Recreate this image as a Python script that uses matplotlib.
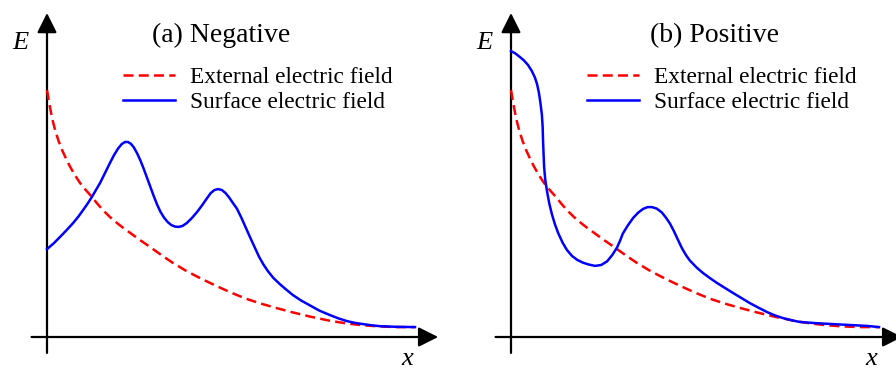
import matplotlib
matplotlib.use("Agg")
import matplotlib.pyplot as plt

# position along the gap (arbitrary units) and field strength
ext_x = [0.00, 0.04, 0.08, 0.14, 0.22, 0.31, 0.41, 0.52, 0.63, 0.76, 0.90, 1.06,
         1.22, 1.37, 1.52, 1.71, 1.90, 2.08, 2.26, 2.53, 2.80, 3.11, 3.42, 3.76,
         4.10, 4.45, 4.80, 5.10, 5.40, 5.79, 6.25, 6.68, 7.15, 7.69, 8.15, 8.59,
         9.05, 9.51, 10.0]
ext_E = [8.23, 7.95, 7.67, 7.28, 6.90, 6.55, 6.23, 5.94, 5.67, 5.39, 5.13, 4.89,
         4.67, 4.44, 4.23, 4.00, 3.80, 3.63, 3.47, 3.23, 3.00, 2.73, 2.47, 2.22,
         2.00, 1.79, 1.59, 1.43, 1.28, 1.12, 0.96, 0.82, 0.68, 0.54, 0.45, 0.39,
         0.35, 0.33, 0.33]

neg_x = [0.00, 0.18, 0.35, 0.53, 0.71, 0.85, 0.98, 1.10, 1.22, 1.33, 1.44, 1.57,
         1.71, 1.82, 1.93, 2.03, 2.12, 2.20, 2.28, 2.36, 2.45, 2.54, 2.63, 2.72,
         2.81, 2.90, 2.99, 3.08, 3.18, 3.28, 3.38, 3.48, 3.58, 3.68, 3.80, 3.94,
         4.08, 4.22, 4.35, 4.45, 4.55, 4.65, 4.75, 4.85, 4.95, 5.05, 5.16, 5.28,
         5.40, 5.52, 5.64, 5.76, 5.88, 6.00, 6.15, 6.33, 6.50, 6.68, 6.90, 7.15,
         7.40, 7.69, 7.92, 8.15, 8.37, 8.59, 8.82, 9.05, 9.50, 10.0]
neg_E = [2.93, 3.12, 3.33, 3.56, 3.80, 4.01, 4.23, 4.44, 4.67, 4.90, 5.13, 5.45,
         5.80, 6.06, 6.28, 6.43, 6.50, 6.50, 6.44, 6.32, 6.12, 5.88, 5.60, 5.30,
         5.00, 4.70, 4.42, 4.18, 3.98, 3.83, 3.73, 3.68, 3.67, 3.70, 3.80, 3.97,
         4.17, 4.40, 4.63, 4.80, 4.90, 4.93, 4.90, 4.80, 4.65, 4.47, 4.28, 3.98,
         3.65, 3.32, 3.00, 2.68, 2.42, 2.20, 1.97, 1.76, 1.58, 1.40, 1.22, 1.05,
         0.88, 0.73, 0.62, 0.53, 0.47, 0.43, 0.39, 0.36, 0.34, 0.33]

pos_x = [0.00, 0.12, 0.245, 0.35, 0.46, 0.56, 0.65, 0.71, 0.76, 0.80, 0.84, 0.86,
         0.87, 0.885, 0.90, 0.93, 0.98, 1.04, 1.11, 1.19, 1.28, 1.40, 1.52, 1.66,
         1.80, 1.95, 2.10, 2.28, 2.45, 2.61, 2.75, 2.88, 2.96, 3.04, 3.18, 3.32,
         3.46, 3.59, 3.71, 3.83, 3.96, 4.10, 4.21, 4.32, 4.43, 4.54, 4.65, 4.76,
         4.86, 5.04, 5.22, 5.41, 5.60, 5.82, 6.03, 6.26, 6.49, 6.72, 6.96, 7.17,
         7.39, 7.62, 7.85, 8.30, 8.75, 9.20, 9.67, 10.0]
pos_E = [9.53, 9.45, 9.33, 9.22, 9.07, 8.88, 8.65, 8.42, 8.13, 7.80, 7.40, 7.00,
         6.57, 6.10, 5.67, 5.25, 4.85, 4.45, 4.10, 3.77, 3.47, 3.15, 2.90, 2.70,
         2.57, 2.48, 2.42, 2.37, 2.40, 2.52, 2.73, 2.98, 3.20, 3.45, 3.73, 3.97,
         4.15, 4.27, 4.33, 4.33, 4.28, 4.15, 3.98, 3.78, 3.52, 3.23, 2.95, 2.72,
         2.55, 2.32, 2.13, 1.96, 1.80, 1.63, 1.47, 1.30, 1.13, 0.98, 0.83, 0.72,
         0.63, 0.56, 0.50, 0.46, 0.43, 0.40, 0.37, 0.33]

titles = ["(a) Negative", "(b) Positive"]
surface = [(neg_x, neg_E), (pos_x, pos_E)]
title_x = [4.73, 5.52]

plt.rcParams["font.family"] = "Liberation Serif"
plt.rcParams["mathtext.fontset"] = "custom"
plt.rcParams["mathtext.it"] = "Liberation Serif:italic"

fig = plt.figure(figsize=(8.96, 3.70), dpi=100)
W, H = 896.0, 370.0
px_x, px_y = 36.8, 30.0
xlim = (-1.2, 11.0)
ylim = (-1.1, 11.2)
origins = [47, 511]

for i, ox in enumerate(origins):
    left = ox + xlim[0] * px_x
    bottom = 370 - 337 + ylim[0] * px_y
    ax = fig.add_axes([left / W, bottom / H,
                       (xlim[1] - xlim[0]) * px_x / W,
                       (ylim[1] - ylim[0]) * px_y / H])
    ax.set_xlim(*xlim)
    ax.set_ylim(*ylim)
    ax.axis("off")

    # arrowed axes
    arrow = dict(arrowstyle="-|>,head_length=0.6,head_width=0.3", color="black",
                 lw=1.6, mutation_scale=20, shrinkA=0, shrinkB=0)
    ax.annotate("", xy=(0, 10.8), xytext=(0, -0.53), arrowprops=arrow)
    ax.annotate("", xy=(10.63, 0), xytext=(-0.42, 0), arrowprops=arrow)

    ext_line, = ax.plot(ext_x, ext_E, color="red", lw=1.8, zorder=3,
                        solid_joinstyle="round", dash_joinstyle="round",
                        label="External electric field")
    ext_line.set_dashes([4.0, 2.1])
    sx, sE = surface[i]
    ax.plot(sx, sE, color="blue", lw=1.8, zorder=4, solid_joinstyle="round",
            label="Surface electric field")

    ax.text(title_x[i], 9.83, titles[i], fontsize=20, ha="center", va="baseline")
    ax.text(-0.72, 9.6, "$E$", fontsize=19, ha="center", va="baseline")
    ax.text(9.8, -0.74, "$x$", fontsize=19, ha="center", va="center")

    ax.legend(loc="upper left", bbox_to_anchor=(2.07, 9.0),
              bbox_transform=ax.transData, frameon=False, fontsize=16.8,
              borderpad=0, borderaxespad=0, handlelength=2.2,
              handletextpad=0.65, labelspacing=0.15)

fig.savefig("out.png", dpi=100)
